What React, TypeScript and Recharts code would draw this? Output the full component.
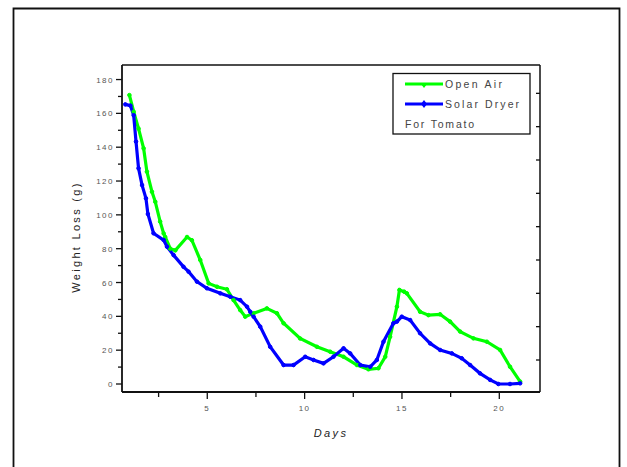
import React from "react";
import { LineChart, Line, XAxis, YAxis } from "recharts";

// ---- data ----
const openAirDays = [1.0, 1.22, 1.47, 1.73, 1.9, 2.16, 2.33, 2.58, 2.76, 2.84, 3.1, 3.36, 3.96, 4.21, 4.64, 5.07, 5.5, 6.01, 6.35, 6.69, 6.95, 7.38, 8.06, 8.58, 8.92, 9.77, 10.63, 11.31, 12.0, 12.69, 13.28, 13.79, 14.14, 14.39, 14.74, 14.87, 15.11, 15.25, 15.93, 16.36, 16.96, 17.47, 17.99, 18.67, 19.36, 20.04, 20.55, 21.07];
const openAirLoss = [170.8, 161, 151, 139.3, 125.5, 113.6, 107.7, 96, 89, 86.9, 80.0, 79.0, 86.9, 85.0, 73.3, 59.5, 57.5, 56.0, 49.6, 43.7, 39.8, 41.8, 44.7, 41.8, 35.9, 26.9, 22.0, 19.1, 16.1, 11.2, 8.7, 9.3, 16.1, 27.9, 45.7, 55.6, 54.6, 53.6, 42.7, 40.7, 41.2, 36.9, 31.0, 27.0, 25.0, 20.1, 10.2, 1.4];

const solarDryerDays = [0.79, 1.05, 1.22, 1.34, 1.47, 1.65, 1.85, 1.95, 2.24, 2.76, 2.93, 3.27, 3.78, 4.04, 4.47, 4.98, 5.67, 6.18, 6.69, 7.04, 7.21, 7.38, 7.72, 8.23, 8.92, 9.43, 10.03, 10.46, 10.97, 11.48, 12.0, 12.34, 12.86, 13.37, 13.71, 14.05, 14.56, 14.74, 14.99, 15.42, 15.93, 16.45, 16.96, 17.56, 18.07, 18.5, 19.01, 19.53, 19.95, 20.55, 21.07];
const solarDryerLoss = [165.3, 164.6, 158.9, 143.3, 127.5, 117.6, 109.8, 100.5, 89.1, 85.1, 81.2, 76.2, 69.3, 66.4, 60.5, 56.6, 53.6, 51.6, 49.6, 45.7, 42.7, 39.8, 33.9, 22.0, 11.2, 11.2, 16.1, 14.2, 12.2, 16.1, 21.1, 18.1, 11.2, 10.2, 14.2, 25.0, 35.9, 36.9, 39.8, 37.8, 30.0, 24.0, 20.1, 18.1, 15.2, 11.2, 6.3, 2.4, 0, 0, 0.4];

const xTicks = [2.5, 5, 7.5, 10, 12.5, 15, 17.5, 20];
const yTicks = [0, 10, 20, 30, 40, 50, 60, 70, 80, 90, 100, 110, 120, 130, 140, 150, 160, 170, 180];
// unlabeled mirror-axis tick positions, in Days units (top) and own units (right)
const topTicks = [5.02, 9.26, 13.49, 17.73];
const rightTicks = [0, 1, 2, 3, 4, 5, 6, 7, 8];

const seriesNames = ["Open Air", "Solar Dryer"];
const noteText = "For Tomato";
const xTitle = "Days";
const yTitle = "Weight Loss (g)";

const openAirData = openAirDays.map((d, i) => ({ x: d, y: openAirLoss[i] }));
const solarDryerData = solarDryerDays.map((d, i) => ({ x: d, y: solarDryerLoss[i] }));

const FONT = "'Liberation Sans', Arial, sans-serif";
const GREEN = "#00ff00";
const BLUE = "#0000ff";
const X_DOMAIN: [number, number] = [0.62, 22.09];
const Y_DOMAIN: [number, number] = [-4.73, 188.6];

const LeftTick = (props: any) => {
  const { x, y, payload } = props;
  const major = payload.value % 20 === 0;
  return (
    <g>
      <line x1={x - (major ? 6 : 4)} x2={x} y1={y} y2={y} stroke="#111" strokeWidth={1.3} />
      {major && (
        <text x={x - 8} y={y + 3} textAnchor="end" fontSize={8} fill="#555" fontFamily={FONT} letterSpacing={1.5}>
          {payload.value}
        </text>
      )}
    </g>
  );
};

const BottomTick = (props: any) => {
  const { x, y, payload } = props;
  const major = payload.value % 5 === 0;
  return (
    <g>
      <line x1={x} x2={x} y1={y} y2={y + (major ? 7 : 5)} stroke="#111" strokeWidth={1.3} />
      {major && (
        <text x={x} y={y + 19} textAnchor="middle" fontSize={8} fill="#555" fontFamily={FONT} letterSpacing={1.5}>
          {payload.value}
        </text>
      )}
    </g>
  );
};

const RightTick = (props: any) => {
  const { x, y } = props;
  return (
    <g>
      <line x1={x} x2={x - 4} y1={y} y2={y} stroke="#111" strokeWidth={1.3} />
    </g>
  );
};

export default function App() {
  return (
    <div style={{ position: "absolute", left: 0, top: 0, width: 627, height: 467, background: "#fff", overflow: "hidden" }}>
      <LineChart width={627} height={467} data={openAirData} margin={{ top: 65, right: 77, bottom: 35, left: 22 }}>
        <XAxis
          xAxisId="bottom"
          dataKey="x"
          type="number"
          domain={X_DOMAIN}
          allowDataOverflow
          ticks={xTicks}
          interval={0}
          height={40}
          tickSize={0}
          tickMargin={0}
          tickLine={false}
          tick={BottomTick}
          axisLine={{ stroke: "#111", strokeWidth: 1.8 }}
        />
        <XAxis
          xAxisId="top"
          dataKey="x"
          orientation="top"
          mirror
          type="number"
          domain={X_DOMAIN}
          allowDataOverflow
          ticks={topTicks}
          interval={0}
          height={10}
          tickSize={5}
          tick={false}
          tickLine={{ stroke: "#111", strokeWidth: 1.4 }}
          axisLine={{ stroke: "#111", strokeWidth: 1.5 }}
        />
        <YAxis
          yAxisId="left"
          type="number"
          domain={Y_DOMAIN}
          allowDataOverflow
          ticks={yTicks}
          interval={0}
          width={100}
          tickSize={0}
          tickMargin={0}
          tickLine={false}
          tick={LeftTick}
          axisLine={{ stroke: "#111", strokeWidth: 1.8 }}
        />
        <YAxis
          yAxisId="right"
          orientation="right"
          type="number"
          domain={[-0.96, 8.85]}
          allowDataOverflow
          ticks={rightTicks}
          interval={0}
          width={10}
          tickSize={0}
          tickMargin={0}
          tickLine={false}
          tick={RightTick}
          axisLine={{ stroke: "#111", strokeWidth: 1.5 }}
        />
        <Line
          xAxisId="bottom"
          yAxisId="left"
          data={openAirData}
          dataKey="y"
          type="linear"
          stroke={GREEN}
          strokeWidth={3.2}
          dot={{ r: 1.8, fill: GREEN, stroke: GREEN, strokeWidth: 1 }}
          isAnimationActive={false}
        />
        <Line
          xAxisId="bottom"
          yAxisId="left"
          data={solarDryerData}
          dataKey="y"
          type="linear"
          stroke={BLUE}
          strokeWidth={3.2}
          dot={{ r: 1.8, fill: BLUE, stroke: BLUE, strokeWidth: 1 }}
          isAnimationActive={false}
        />
      </LineChart>
      <svg width={627} height={467} style={{ position: "absolute", left: 0, top: 0, pointerEvents: "none" }}>
        <path d="M13.5,470 V8.5 H619.5 V470" fill="none" stroke="#111" strokeWidth={1.8} />
        <text
          x={80}
          y={237}
          transform="rotate(-90 80 237)"
          textAnchor="middle"
          fontSize={11}
          fill="#222"
          fontFamily={FONT}
          letterSpacing={2.3}
        >
          {yTitle}
        </text>
        <text x={331} y={437} textAnchor="middle" fontSize={11} fontStyle="italic" fill="#222" fontFamily={FONT} letterSpacing={2.4}>
          {xTitle}
        </text>
        <rect x={393} y={73.5} width={137} height={60.5} fill="#fff" stroke="#111" strokeWidth={1.3} />
        <line x1={405} x2={443} y1={84} y2={84} stroke={GREEN} strokeWidth={3} />
        <path d="M421,84 L427,84 L424,88 Z" fill={GREEN} />
        <text x={445} y={88} fontSize={10.5} fill="#444" fontFamily={FONT} letterSpacing={2.3}>
          {seriesNames[0]}
        </text>
        <line x1={405} x2={443} y1={104} y2={104} stroke={BLUE} strokeWidth={3} />
        <path d="M424,100 L427,104 L424,108 L421,104 Z" fill={BLUE} />
        <text x={445} y={108} fontSize={10.5} fill="#444" fontFamily={FONT} letterSpacing={2.1}>
          {seriesNames[1]}
        </text>
        <text x={405} y={128} fontSize={10.5} fill="#444" fontFamily={FONT} letterSpacing={1.8}>
          {noteText}
        </text>
      </svg>
    </div>
  );
}
